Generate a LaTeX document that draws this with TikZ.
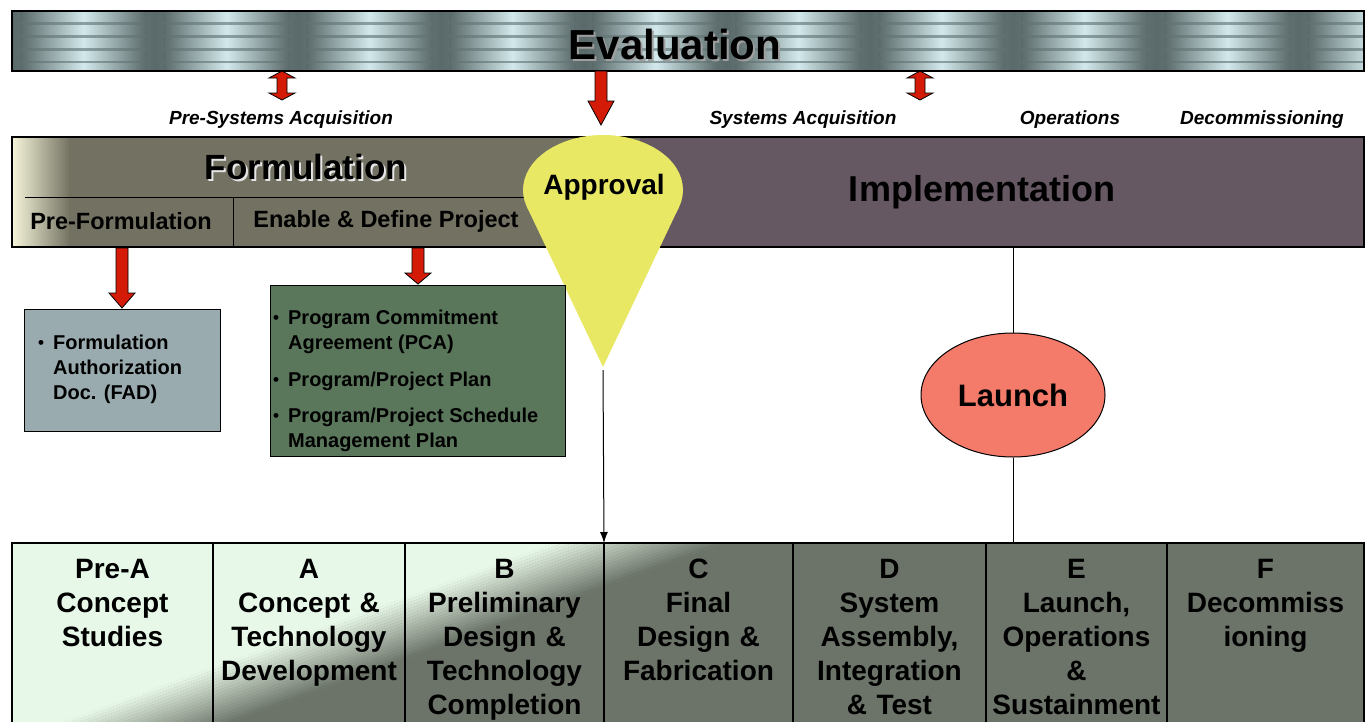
\documentclass[tikz,border=0pt]{standalone}
\usepackage{fontspec}
\setmainfont{Liberation Sans}
\usepackage{xcolor}
\usepackage{tikz}
\usetikzlibrary{shapes.geometric,arrows.meta}

\definecolor{evallight}{HTML}{D2E8EA}
\definecolor{evalmid}{HTML}{8A9FA0}
\definecolor{evaldark}{HTML}{5A6969}
\definecolor{formcream}{HTML}{F6F5DA}
\definecolor{formolive}{HTML}{737262}
\definecolor{implpurple}{HTML}{655862}
\definecolor{approvalyellow}{HTML}{E8E864}
\definecolor{fadblue}{HTML}{9AABB0}
\definecolor{pcagreen}{HTML}{5A775C}
\definecolor{launchred}{HTML}{F47A6A}
\definecolor{rowlight}{HTML}{E8F8E8}
\definecolor{rowdark}{HTML}{6C7469}
\definecolor{arrowred}{HTML}{D41B08}

\newcommand{\bul}{\raisebox{1pt}{\fontsize{17}{17}\selectfont\textbullet}}
% red block arrows: x, y top, y bottom, head length
\newcommand{\blockdown}[4]{\draw[redblock] ({#1-6},#2) -- ({#1-6},{#3-#4}) -- ({#1-13},{#3-#4}) -- (#1,#3) -- ({#1+13},{#3-#4}) -- ({#1+6},{#3-#4}) -- ({#1+6},#2) -- cycle;}
\newcommand{\blockboth}[3]{\draw[redblock] (#1,#2) -- ({#1+13},{#2+7}) -- ({#1+5},{#2+7}) -- ({#1+5},{#3-7}) -- ({#1+13},{#3-7}) -- (#1,#3) -- ({#1-13},{#3-7}) -- ({#1-5},{#3-7}) -- ({#1-5},{#2+7}) -- ({#1-13},{#2+7}) -- cycle;}

\begin{document}
\begin{tikzpicture}[x=1pt,y=-1pt]
\tikzstyle{connect}=[-{Latex[length=11pt,width=8pt]}, line width=1pt]
\tikzstyle{link}=[line width=1pt]
\tikzstyle{frame}=[draw=black, line width=1.2pt]
\tikzstyle{redblock}=[fill=arrowred, draw=black, line width=0.8pt]
\tikzstyle{phaselabel}=[font=\fontsize{19}{22}\selectfont\bfseries\itshape]
\tikzstyle{subtext}=[font=\fontsize{23.5}{28}\selectfont\bfseries]
\tikzstyle{listtext}=[anchor=north west, inner sep=0pt, font=\fontsize{20}{25}\selectfont\bfseries]
\tikzstyle{stagetext}=[anchor=north, inner sep=0pt, text width=186pt, align=center, font=\fontsize{28}{34}\selectfont\bfseries]
  \useasboundingbox (0,0) rectangle (1369,721);
  \clip (0,0) rectangle (1369,721);

  % evaluation bar
  \begin{scope}
    \clip (12,11) rectangle (1364,71);
    \foreach \xa/\xb in {12/155,155/298,298/441,441/584,584/727,727/870,870/1013,1013/1156,1156/1299,1299/1442} {
      \shade[left color=evaldark, right color=evaldark, middle color=evalmid] (\xa,11) rectangle (\xb,71);
      \foreach \y in {17,30,43,56,68}
        \shade[left color=evaldark, right color=evaldark, middle color=evallight] ({\xa+8},{\y-4.5}) rectangle ({\xb-8},{\y+4.5});
    }
  \end{scope}
  \draw[frame] (12,11) rectangle (1364,71);
  \node[font=\fontsize{42}{46}\selectfont\bfseries, text=gray!75] at (677,46) {Evaluation};
  \node[font=\fontsize{42}{46}\selectfont\bfseries] (evaluation) at (675,44) {Evaluation};

  \blockboth{282}{71}{100}
  \blockdown{601}{71}{125}{24}
  \blockboth{920}{71}{100}

  \node[phaselabel] (presys) at (281,120) {Pre-Systems Acquisition};
  \node[phaselabel] (sys) at (803,120) {Systems Acquisition};
  \node[phaselabel] (ops) at (1070,120) {Operations};
  \node[phaselabel] (decom) at (1262,120) {Decommissioning};

  % formulation / implementation bar
  \shade[left color=formcream, right color=formolive] (12,137) rectangle (70,247);
  \fill[formolive] (69,137) rectangle (640,247);
  \fill[implpurple] (640,137) rectangle (1364,247);
  \draw[frame] (12,137) rectangle (1364,247);
  \draw[link] (25,197) -- (560,197);
  \draw[link] (233,197) -- (233,247);
  \node[font=\fontsize{35}{40}\selectfont\bfseries, text=white!80!gray] at (308,169) {Formulation};
  \node[font=\fontsize{35}{40}\selectfont\bfseries] (formulation) at (306,167) {Formulation};
  \node[subtext] (preform) at (121,221) {Pre-Formulation};
  \node[subtext] (enable) at (386,221) {Enable \& Define Project};
  \node[font=\fontsize{36}{40}\selectfont\bfseries, text=black] (implementation) at (982,192) {Implementation};

  % approval
  \fill[approvalyellow] (603,190) ellipse[x radius=80, y radius=55];
  \fill[approvalyellow] (527,207) -- (679,207) -- (603,367) -- cycle;
  \node[font=\fontsize{28}{32}\selectfont\bfseries] (approval) at (604,187) {Approval};
  \coordinate (approvaltip) at (603,370);

  % documents
  \blockdown{122}{248}{308}{15}
  \blockdown{418}{248}{284}{11}
  \node[draw=black, line width=1.2pt, fill=fadblue, anchor=north west, minimum width=196pt, minimum height=122pt] (fad) at (24,309) {};
  \node[listtext] (fadtext) at (38,331.5) {\begin{tabular}{@{}l@{\hspace{9pt}}l@{}}
    \bul & Formulation\\
         & Authorization\\
         & Doc. (FAD)
  \end{tabular}};
  \node[draw=black, line width=1.2pt, fill=pcagreen, anchor=north west, minimum width=295pt, minimum height=171pt] (pca) at (270,285) {};
  \node[listtext] (pcatext) at (273,306.5) {\begin{tabular}{@{}l@{\hspace{9pt}}l@{}}
    \bul & Program Commitment\\
         & Agreement (PCA)\\[12pt]
    \bul & Program/Project Plan\\[11pt]
    \bul & Program/Project Schedule\\
         & Management Plan
  \end{tabular}};

  % launch
  \node[ellipse, draw=black, line width=1pt, fill=launchred, minimum width=184pt, minimum height=124pt, inner sep=0pt, font=\fontsize{31}{34}\selectfont\bfseries] (launch) at (1013,395) {Launch};
  \coordinate (implbottom) at (1013,247);
  \coordinate (etop) at (1013,543);
  \coordinate (ctop) at (604,543);

  % life-cycle phases
  \begin{scope}
    \clip (12,543) rectangle (1364,730);
    \fill[rowdark] (12,543) rectangle (1364,730);
    \fill[rowlight] (12,543) -- (556,543) -- (41,730) -- (12,730) -- cycle;
    \foreach \i in {0,...,19} {
      \pgfmathsetmacro\pct{100-(\i+0.5)*5}
      \pgfmathsetmacro\da{-85+8.5*\i}
      \pgfmathsetmacro\db{-76+8.5*\i}
      \fill[rowlight!\pct!rowdark] ({640+\da},543) -- ({640+\db},543) -- ({125+\db},730) -- ({125+\da},730) -- cycle;
    }
  \end{scope}
  \foreach \xa/\xb/\name/\txt in {12/213/prea/{Pre-A\\Concept\\Studies},
      213/405/stagea/{A\\Concept \&\\Technology\\Development},
      405/604/stageb/{B\\Preliminary\\Design \&\\Technology\\Completion},
      604/793/stagec/{C\\Final\\Design \&\\Fabrication},
      793/986/staged/{D\\System\\Assembly,\\Integration\\\& Test},
      986/1167/stagee/{E\\Launch,\\Operations\\\&\\Sustainment},
      1167/1364/stagef/{F\\Decommiss\\ioning}} {
    \draw[frame] (\xa,543) rectangle (\xb,730);
    \node[stagetext] (\name) at ({(\xa+\xb)/2},559) {\txt};
  }

  \draw[connect] (approvaltip) -- (ctop);
  \draw[link] (implbottom) -- (launch.north);
  \draw[link] (launch.south) -- (etop);
\end{tikzpicture}
\end{document}
